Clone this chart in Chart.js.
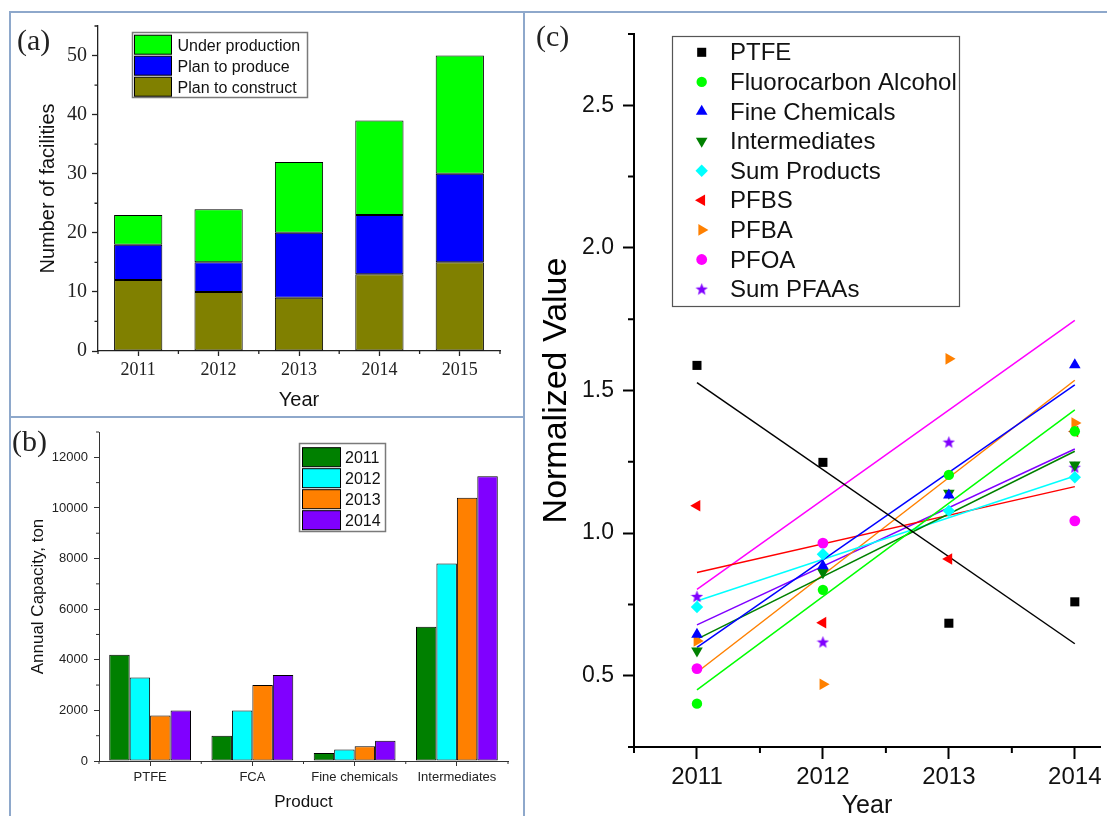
<!DOCTYPE html>
<html>
<head>
<meta charset="utf-8">
<script src="https://cdn.jsdelivr.net/npm/chart.js@4.4.1/dist/chart.umd.min.js"></script>
<style>
  html, body { margin: 0; padding: 0; background: #fff; }
  #fig { position: relative; width: 1107px; height: 816px; overflow: hidden; background: #fff; }
  #fig canvas { position: absolute; left: 0; top: 0; }
  .rule { position: absolute; background: #8ea8cb; }
  .tag { position: absolute; font-family: 'Liberation Serif', 'Times New Roman', serif;
         font-size: 30px; line-height: 30px; color: #222; }
</style>
</head>
<body>
<div id="fig">
  <div class="rule" style="left:9px;top:11px;width:1098px;height:2px"></div>
  <div class="rule" style="left:9px;top:11px;width:2px;height:805px"></div>
  <div class="rule" style="left:523px;top:11px;width:2px;height:805px"></div>
  <div class="rule" style="left:9px;top:416px;width:516px;height:2px"></div>
  <canvas id="chartA" width="1107" height="816"></canvas>
  <canvas id="chartB" width="1107" height="816"></canvas>
  <canvas id="chartC" width="1107" height="840"></canvas>
  <div class="tag" style="left:17px;top:25px">(a)</div>
  <div class="tag" style="left:12px;top:426px">(b)</div>
  <div class="tag" style="left:536px;top:21px">(c)</div>
</div>
<script>
// ---------- (a) number of facilities per year ----------
const facilityYears = ['2011', '2012', '2013', '2014', '2015'];
const planToConstruct = [12, 10, 9, 13, 15];
const planToProduce = [6, 5, 11, 10, 15];
const underProduction = [5, 9, 12, 16, 20];
const facilityTicks = [0, 10, 20, 30, 40, 50];
const facilityMinorTicks = [5, 15, 25, 35, 45, 55];

// ---------- (b) annual capacity by product ----------
const products = ['PTFE', 'FCA', 'Fine chemicals', 'Intermediates'];
const capacityYears = ['2011', '2012', '2013', '2014'];
const capacity2011 = [4200, 1000, 320, 5300];
const capacity2012 = [3300, 2000, 450, 7800];
const capacity2013 = [1800, 3000, 580, 10400];
const capacity2014 = [2000, 3400, 800, 11250];
const capacityTicks = [0, 2000, 4000, 6000, 8000, 10000, 12000];
const capacityMinorTicks = [1000, 3000, 5000, 7000, 9000, 11000, 13000];

// ---------- (c) normalized values with linear fits ----------
const trendYears = [2011, 2012, 2013, 2014];
const trendSeries = ['PTFE', 'Fluorocarbon Alcohol', 'Fine Chemicals', 'Intermediates',
                     'Sum Products', 'PFBS', 'PFBA', 'PFOA', 'Sum PFAAs'];
const ptfe = [1.588, 1.248, 0.684, 0.759];
const fluorocarbonAlcohol = [0.402, 0.801, 1.204, 1.357];
const fineChemicals = [0.645, 0.885, 1.133, 1.590];
const intermediates = [0.587, 0.862, 1.140, 1.239];
const sumProducts = [0.741, 0.926, 1.078, 1.196];
const pfbs = [1.096, 0.686, 0.909, 1.356];
const pfba = [0.622, 0.470, 1.611, 1.386];
const pfoa = [0.525, 0.965, 2.565, 1.043];
const sumPfaas = [0.778, 0.618, 1.319, 1.231];
// fitted line values at 2011 and 2014
const ptfeFit = [1.528, 0.612];
const fluorocarbonAlcoholFit = [0.450, 1.432];
const fineChemicalsFit = [0.599, 1.520];
const intermediatesFit = [0.628, 1.287];
const sumProductsFit = [0.762, 1.200];
const pfbsFit = [0.862, 1.163];
const pfbaFit = [0.512, 1.536];
const pfoaFit = [0.803, 1.746];
const sumPfaasFit = [0.678, 1.295];
const normTicks = [0.5, 1.0, 1.5, 2.0, 2.5];
const normMinorTicks = [0.25, 0.75, 1.25, 1.75, 2.25, 2.75];
const yearMinorTicks = [2010.5, 2011.5, 2012.5, 2013.5];

// ---------- shared styling ----------
const serif = "'Liberation Serif', 'Times New Roman', serif";
const sans = "'Liberation Sans', Arial, sans-serif";
Chart.defaults.font.family = sans;
Chart.defaults.color = '#111';

function minorTicks(spec) {
  return {
    id: 'minorTicks',
    afterDraw(chart) {
      const { ctx, chartArea: a } = chart;
      ctx.save();
      ctx.strokeStyle = spec.color;
      ctx.lineWidth = spec.width;
      ctx.beginPath();
      (spec.x || []).forEach(v => {
        const p = chart.scales.x.getPixelForValue(v);
        ctx.moveTo(p, a.bottom);
        ctx.lineTo(p, a.bottom + spec.xLength);
      });
      (spec.y || []).forEach(v => {
        const p = chart.scales.y.getPixelForValue(v);
        ctx.moveTo(a.left - spec.yLength, p);
        ctx.lineTo(a.left, p);
      });
      ctx.stroke();
      ctx.restore();
    }
  };
}

function drawMarker(ctx, ds, x, y, radius) {
  const opts = { pointStyle: ds.pointStyle, rotation: ds.pointRotation || 0, radius: radius, borderWidth: 0 };
  ctx.fillStyle = ds.backgroundColor;
  if (Chart.helpers && Chart.helpers.drawPoint) {
    Chart.helpers.drawPoint(ctx, opts, x, y);
  }
}

// Boxed legend drawn on top of the plot
function boxLegend(spec) {
  return {
    id: 'boxLegend',
    afterDraw(chart) {
      const ctx = chart.ctx;
      const b = spec.box;
      ctx.save();
      ctx.fillStyle = '#fff';
      ctx.fillRect(b.left, b.top, b.right - b.left, b.bottom - b.top);
      ctx.strokeStyle = spec.borderColor;
      ctx.lineWidth = spec.borderWidth;
      ctx.strokeRect(b.left, b.top, b.right - b.left, b.bottom - b.top);
      ctx.font = spec.fontSize + 'px ' + sans;
      ctx.textBaseline = 'middle';
      ctx.textAlign = 'left';
      spec.order.forEach((di, row) => {
        const ds = chart.data.datasets[di];
        const cy = spec.firstRow + row * spec.rowGap;
        if (spec.swatch) {
          const s = spec.swatch;
          ctx.fillStyle = ds.backgroundColor;
          ctx.fillRect(s.left, cy - s.height / 2, s.width, s.height);
          ctx.strokeStyle = '#000';
          ctx.lineWidth = 1;
          ctx.strokeRect(s.left, cy - s.height / 2, s.width, s.height);
        } else {
          drawMarker(ctx, ds, spec.markerX, cy, ds.legendRadius);
        }
        ctx.fillStyle = '#111';
        ctx.fillText(ds.label, spec.textX, cy + 1.5);
      });
      ctx.restore();
    }
  };
}

// ---------- chart (a) ----------
new Chart(document.getElementById('chartA'), {
  type: 'bar',
  data: {
    labels: facilityYears,
    datasets: [
      { label: 'Plan to construct', data: planToConstruct, backgroundColor: '#808000' },
      { label: 'Plan to produce', data: planToProduce, backgroundColor: '#0000ff' },
      { label: 'Under production', data: underProduction, backgroundColor: '#00ff00' }
    ].map(d => Object.assign(d, { borderColor: '#000', borderWidth: 1, borderSkipped: false,
                                  barPercentage: 0.6, categoryPercentage: 1 }))
  },
  options: {
    responsive: false, animation: false, events: [],
    layout: { padding: { left: 0, top: 26, right: 607, bottom: 399 } },
    plugins: { legend: { display: false }, tooltip: { enabled: false } },
    scales: {
      x: {
        stacked: true, offset: true,
        grid: { offset: false, drawOnChartArea: false, tickLength: 5, tickColor: '#222', tickWidth: 1.3 },
        border: { color: '#222', width: 1.3 },
        ticks: { font: { family: serif, size: 18 }, color: '#222', padding: 3, maxRotation: 0 },
        title: { display: true, text: 'Year', font: { family: sans, size: 20 }, color: '#111',
                 padding: { top: 0, bottom: 5 } },
        afterFit(s) { s.height = 66; }
      },
      y: {
        stacked: true, min: 0, max: 55,
        afterBuildTicks(s) { s.ticks = facilityTicks.map(v => ({ value: v })); },
        grid: { drawOnChartArea: false, tickLength: 6, tickColor: '#222', tickWidth: 1.3 },
        border: { color: '#222', width: 1.3 },
        ticks: { font: { family: serif, size: 20 }, color: '#222', padding: 5 },
        title: { display: true, text: 'Number of facilities', font: { family: sans, size: 20 }, color: '#111',
                 padding: { top: 36, bottom: 0 } },
        afterFit(s) { s.width = 98; }
      }
    }
  },
  plugins: [
    minorTicks({ color: '#222', width: 1.3, xLength: 3, yLength: 3.5,
                 x: facilityYears.map((_, i) => i - 0.5).concat([facilityYears.length - 0.5]),
                 y: facilityMinorTicks }),
    boxLegend({ box: { left: 132.5, top: 32.5, right: 307.5, bottom: 97.5 }, borderColor: '#7a7a7a', borderWidth: 1.5,
                fontSize: 16, order: [2, 1, 0], firstRow: 44.7, rowGap: 21,
                swatch: { left: 134.5, width: 37, height: 19 }, textX: 177.5 })
  ]
});

// ---------- chart (b) ----------
const capacitySeries = [capacity2011, capacity2012, capacity2013, capacity2014];
const capacityColors = ['#008000', '#00ffff', '#ff8000', '#8000ff'];
new Chart(document.getElementById('chartB'), {
  type: 'bar',
  data: {
    labels: products,
    datasets: capacityYears.map((yr, i) => ({
      label: yr, data: capacitySeries[i], backgroundColor: capacityColors[i],
      borderColor: '#000', borderWidth: 1, borderSkipped: false,
      barPercentage: 1, categoryPercentage: 0.8
    }))
  },
  options: {
    responsive: false, animation: false, events: [],
    layout: { padding: { left: 0, top: 432, right: 599, bottom: 0 } },
    plugins: { legend: { display: false }, tooltip: { enabled: false } },
    scales: {
      x: {
        offset: true,
        grid: { offset: false, drawOnChartArea: false, tickLength: 5, tickColor: '#333', tickWidth: 1 },
        border: { color: '#333', width: 1 },
        ticks: { font: { family: sans, size: 13 }, color: '#222', padding: 4, maxRotation: 0, autoSkip: false },
        title: { display: true, text: 'Product', font: { family: sans, size: 17 }, color: '#111',
                 padding: { top: 0, bottom: 3 } },
        afterFit(s) { s.height = 55; }
      },
      y: {
        min: 0, max: 13000,
        afterBuildTicks(s) { s.ticks = capacityTicks.map(v => ({ value: v })); },
        grid: { drawOnChartArea: false, tickLength: 5, tickColor: '#333', tickWidth: 1 },
        border: { color: '#333', width: 1 },
        ticks: { font: { family: sans, size: 13 }, color: '#222', padding: 6, callback: v => String(v) },
        title: { display: true, text: 'Annual Capacity, ton', font: { family: sans, size: 17 }, color: '#111',
                 padding: { top: 28, bottom: 0 } },
        afterFit(s) { s.width = 99; }
      }
    }
  },
  plugins: [
    minorTicks({ color: '#333', width: 1, xLength: 3, yLength: 3,
                 x: products.map((_, i) => i - 0.5).concat([products.length - 0.5]),
                 y: capacityMinorTicks }),
    boxLegend({ box: { left: 299.5, top: 443.5, right: 385.5, bottom: 531.5 }, borderColor: '#7a7a7a', borderWidth: 1.5,
                fontSize: 16, order: [0, 1, 2, 3], firstRow: 457.2, rowGap: 21,
                swatch: { left: 302.5, width: 38, height: 19 }, textX: 345 })
  ]
});

// ---------- chart (c) ----------
function starImage(color, size) {
  const c = document.createElement('canvas');
  c.width = size; c.height = size;
  const g = c.getContext('2d');
  const cx = size / 2, cy = size / 2 + 0.5, R = size / 2, r = R * 0.42;
  g.beginPath();
  for (let k = 0; k < 10; k++) {
    const a = -Math.PI / 2 + k * Math.PI / 5;
    const rr = k % 2 ? r : R;
    g.lineTo(cx + rr * Math.cos(a), cy + rr * Math.sin(a));
  }
  g.closePath();
  g.fillStyle = color;
  g.fill();
  return c;
}

const trendValues = [ptfe, fluorocarbonAlcohol, fineChemicals, intermediates, sumProducts, pfbs, pfba, pfoa, sumPfaas];
const trendFits = [ptfeFit, fluorocarbonAlcoholFit, fineChemicalsFit, intermediatesFit, sumProductsFit,
                   pfbsFit, pfbaFit, pfoaFit, sumPfaasFit];
const trendColors = ['#000000', '#00ff00', '#0000ff', '#008000', '#00ffff', '#ff0000', '#ff8000', '#ff00ff', '#8000ff'];
const trendMarkers = [
  { style: 'rect', rotation: 0, radius: 6.4 },
  { style: 'circle', rotation: 0, radius: 5.2 },
  { style: 'triangle', rotation: 0, radius: 6.7 },
  { style: 'triangle', rotation: 180, radius: 6.7 },
  { style: 'rectRot', rotation: 0, radius: 6.2 },
  { style: 'triangle', rotation: 270, radius: 6.7 },
  { style: 'triangle', rotation: 90, radius: 6.7 },
  { style: 'circle', rotation: 0, radius: 5.4 },
  { style: starImage('#8000ff', 13), rotation: 0, radius: 6 }
];

const pointSets = trendSeries.map((name, i) => ({
  label: name,
  data: trendYears.map((yr, j) => ({ x: yr, y: trendValues[i][j] })),
  showLine: false,
  pointStyle: trendMarkers[i].style,
  pointRotation: trendMarkers[i].rotation,
  pointRadius: trendMarkers[i].radius,
  legendRadius: trendMarkers[i].radius,
  pointBorderWidth: 0,
  backgroundColor: trendColors[i],
  borderColor: trendColors[i],
  order: 0
}));
const fitSets = trendSeries.map((name, i) => ({
  label: name + ' fit',
  data: [{ x: trendYears[0], y: trendFits[i][0] }, { x: trendYears[trendYears.length - 1], y: trendFits[i][1] }],
  showLine: true,
  pointRadius: 0,
  borderColor: trendColors[i],
  backgroundColor: trendColors[i],
  borderWidth: 1.5,
  fill: false,
  order: 1
}));

new Chart(document.getElementById('chartC'), {
  type: 'scatter',
  data: { datasets: pointSets.concat(fitSets) },
  options: {
    responsive: false, animation: false, events: [],
    layout: { padding: { left: 530, top: 34, right: 7, bottom: 0 } },
    plugins: { legend: { display: false }, tooltip: { enabled: false } },
    scales: {
      x: {
        type: 'linear', min: 2010.5, max: 2014.2,
        afterBuildTicks(s) { s.ticks = trendYears.map(v => ({ value: v })); },
        grid: { drawOnChartArea: false, tickLength: 12, tickColor: '#000', tickWidth: 2 },
        border: { color: '#000', width: 2 },
        ticks: { font: { family: sans, size: 24 }, color: '#111', padding: 4, callback: v => String(v) },
        title: { display: true, text: 'Year', font: { family: sans, size: 25 }, color: '#111',
                 padding: { top: 0, bottom: 19 } },
        afterFit(s) { s.height = 93; }
      },
      y: {
        type: 'linear', min: 0.25, max: 2.75,
        afterBuildTicks(s) { s.ticks = normTicks.map(v => ({ value: v })); },
        grid: { drawOnChartArea: false, tickLength: 11, tickColor: '#000', tickWidth: 2 },
        border: { color: '#000', width: 2 },
        ticks: { font: { family: sans, size: 23 }, color: '#111', padding: 9, callback: v => v.toFixed(1) },
        title: { display: true, text: 'Normalized Value', font: { family: sans, size: 34 }, color: '#000',
                 padding: { top: 6, bottom: 0 } },
        afterFit(s) { s.width = 104; }
      }
    }
  },
  plugins: [
    minorTicks({ color: '#000', width: 2, xLength: 6, yLength: 6, x: yearMinorTicks, y: normMinorTicks }),
    boxLegend({ box: { left: 672.5, top: 36.5, right: 959.5, bottom: 306.5 }, borderColor: '#555', borderWidth: 1.2,
                fontSize: 24, order: trendSeries.map((_, i) => i), firstRow: 52.3, rowGap: 29.6,
                markerX: 701.7, textX: 730 })
  ]
});
</script>
</body>
</html>
